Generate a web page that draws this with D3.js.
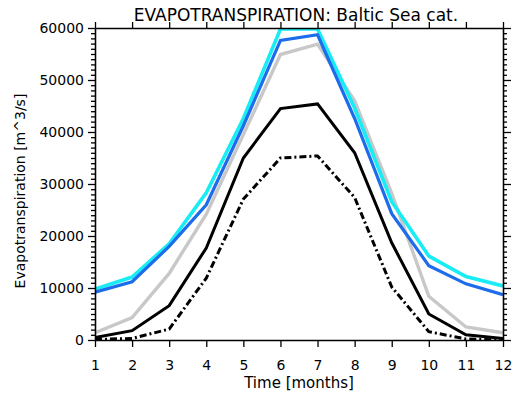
<!DOCTYPE html>
<html>
<head>
<meta charset="utf-8">
<script src="https://cdn.jsdelivr.net/npm/d3@7"></script>
<style>
  html, body { margin: 0; padding: 0; background: #fff; }
  svg text { font-family: "DejaVu Sans", Verdana, sans-serif; fill: #000; }
</style>
</head>
<body>
<svg id="chart" width="520" height="396"></svg>
<script>
// Monthly evapotranspiration, Baltic Sea catchment (m^3/s)
const months = [1, 2, 3, 4, 5, 6, 7, 8, 9, 10, 11, 12];
const cyanSeries  = [9800, 12100, 18500, 28300, 42600, 59800, 59800, 44600, 26600, 16150, 12200, 10400];
const blueSeries  = [9200, 11200, 18000, 26000, 41200, 57600, 58700, 42600, 24300, 14300, 10800, 8700];
const graySeries  = [1400, 4300, 12800, 24200, 39500, 54900, 56900, 46000, 28200, 8400, 2500, 1400];
const blackSeries = [500, 1800, 6600, 17700, 35000, 44500, 45400, 36000, 18700, 5000, 1000, 300];
const dashSeries  = [100, 300, 2100, 11900, 27100, 35000, 35400, 27400, 10200, 1600, 200, 0];
const yTicks = [0, 10000, 20000, 30000, 40000, 50000, 60000];

const svg = d3.select("#chart");
const L = 95, R = 503, T = 28, B = 340;

const x = d3.scaleLinear().domain([1, 12]).range([L, R]);
const y = d3.scaleLinear().domain([0, 60000]).range([B, T]);

svg.append("defs").append("clipPath").attr("id", "plotClip")
  .append("rect").attr("x", L).attr("y", T).attr("width", R - L).attr("height", B - T);

const line = d3.line().x((d, i) => x(months[i])).y(d => y(d));

const series = [
  { data: graySeries,  color: "#c8c8c8", width: 3.4, dash: null },
  { data: dashSeries,  color: "#000000", width: 3,   dash: "7,3,2,3" },
  { data: blackSeries, color: "#000000", width: 3,   dash: null },
  { data: cyanSeries,  color: "#18ecf4", width: 3.6, dash: null },
  { data: blueSeries,  color: "#1c6cec", width: 3.2, dash: null }
];

const g = svg.append("g").attr("clip-path", "url(#plotClip)");
series.forEach(s => {
  g.append("path")
    .datum(s.data)
    .attr("d", line)
    .attr("fill", "none")
    .attr("stroke", s.color)
    .attr("stroke-width", s.width)
    .attr("stroke-linejoin", "miter")
    .attr("stroke-dasharray", s.dash);
});

// Axes: major ticks outward, minor ticks every 1000 on the value axes
const minor = d3.range(0, 60001, 1000).filter(v => v % 10000 !== 0);
const axisStyle = sel => {
  sel.select(".domain").attr("stroke", "#000").attr("stroke-width", 1.3);
  sel.selectAll(".tick line").attr("stroke", "#000").attr("stroke-width", 1.3);
  sel.selectAll("text").style("font-size", "14px");
};

svg.append("g").attr("transform", `translate(0,${B})`)
  .call(d3.axisBottom(x).tickValues(months).tickFormat(d3.format("d")).tickSizeInner(7).tickSizeOuter(0).tickPadding(13))
  .call(axisStyle);
svg.append("g").attr("transform", `translate(0,${T})`)
  .call(d3.axisTop(x).tickValues(months).tickFormat("").tickSizeInner(6).tickSizeOuter(0))
  .call(axisStyle);

svg.append("g").attr("transform", `translate(${L},0)`)
  .call(d3.axisLeft(y).tickValues(minor).tickFormat("").tickSizeInner(4).tickSizeOuter(0))
  .call(axisStyle);
svg.append("g").attr("transform", `translate(${L},0)`)
  .call(d3.axisLeft(y).tickValues(yTicks).tickFormat(d3.format("d")).tickSizeInner(7).tickSizeOuter(0).tickPadding(4))
  .call(axisStyle);

svg.append("g").attr("transform", `translate(${R},0)`)
  .call(d3.axisRight(y).tickValues(minor).tickFormat("").tickSizeInner(4).tickSizeOuter(0))
  .call(axisStyle);
svg.append("g").attr("transform", `translate(${R},0)`)
  .call(d3.axisRight(y).tickValues(yTicks).tickFormat("").tickSizeInner(8).tickSizeOuter(0))
  .call(axisStyle);

// Titles
svg.append("text").attr("x", 296).attr("y", 21)
  .attr("text-anchor", "middle").style("font-size", "17px")
  .text("EVAPOTRANSPIRATION: Baltic Sea cat.");
svg.append("text").attr("x", 299).attr("y", 388)
  .attr("text-anchor", "middle").style("font-size", "15px")
  .text("Time [months]");
svg.append("text")
  .attr("transform", `translate(25,191) rotate(-90)`)
  .attr("text-anchor", "middle").style("font-size", "14px")
  .text("Evapotranspiration [m^3/s]");
</script>
</body>
</html>
